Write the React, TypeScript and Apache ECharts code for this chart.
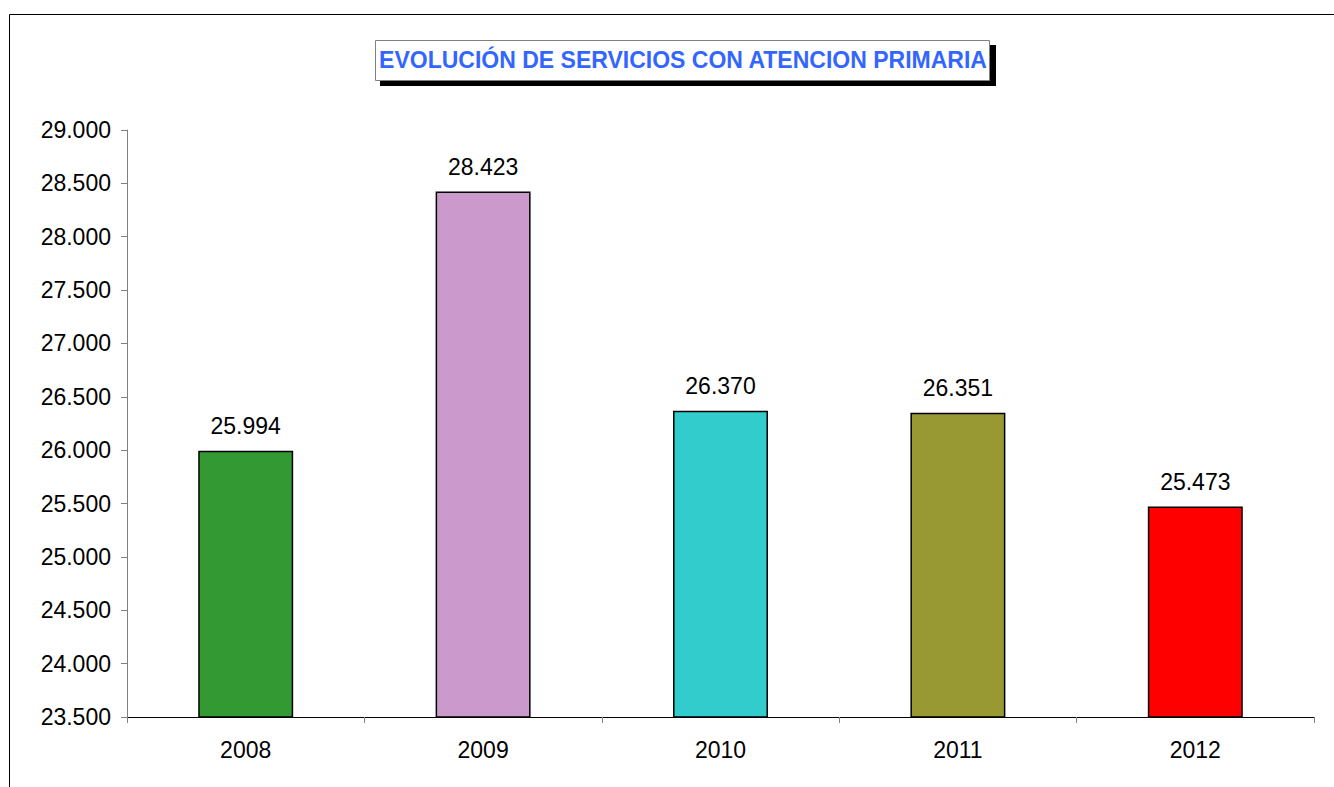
import React, { useEffect, useRef } from "react";
import * as echarts from "echarts";

const categories = ["2008", "2009", "2010", "2011", "2012"];
const values = [25994, 28423, 26370, 26351, 25473];
const barColors = ["#339933", "#CC99CC", "#33CCCC", "#999933", "#FF0000"];
const titleText = "EVOLUCIÓN DE SERVICIOS CON ATENCION PRIMARIA";

const fmt = (v: number) => {
  const s = Math.round(v).toString();
  return s.replace(/\B(?=(\d{3})+(?!\d))/g, ".");
};

export default function App() {
  const ref = useRef<HTMLDivElement>(null);
  useEffect(() => {
    if (!ref.current) return;
    const chart = echarts.init(ref.current, undefined, { renderer: "svg" });
    const font = "Arial, 'Liberation Sans', sans-serif";
    chart.setOption({
      animation: false,
      backgroundColor: "#ffffff",
      textStyle: { fontFamily: font },
      grid: { left: 127, top: 130, right: 20, bottom: 70, containLabel: false },
      xAxis: {
        type: "category",
        data: categories,
        boundaryGap: true,
        axisLine: { lineStyle: { color: "#000000", width: 1 } },
        axisTick: { show: true, length: 6, lineStyle: { color: "#808080" } },
        axisLabel: { color: "#000000", fontSize: 23, fontFamily: font, margin: 21 },
      },
      yAxis: {
        type: "value",
        min: 23500,
        max: 29000,
        interval: 500,
        splitLine: { show: false },
        axisLine: { show: true, lineStyle: { color: "#808080", width: 1 } },
        axisTick: { show: true, length: 6, inside: false, lineStyle: { color: "#808080" } },
        axisLabel: {
          color: "#000000",
          fontSize: 23,
          fontFamily: font,
          margin: 16,
          formatter: (v: number) => fmt(v),
        },
      },
      series: [
        {
          type: "bar",
          barWidth: "40%",
          data: values.map((v, i) => ({
            value: v,
            itemStyle: { color: barColors[i], borderColor: "#000000", borderWidth: 1.5 },
          })),
          label: {
            show: true,
            position: "top",
            distance: 13,
            color: "#000000",
            fontSize: 23,
            fontFamily: font,
            formatter: (p: any) => fmt(p.value),
          },
        },
      ],
      graphic: [
        {
          type: "rect",
          shape: { x: 9.5, y: 14.5, width: 1500, height: 1000 },
          style: { fill: "none", stroke: "#000000", lineWidth: 1 },
          silent: true,
          z: 0,
        },
        {
          type: "rect",
          shape: { x: 380, y: 45, width: 616, height: 41 },
          style: { fill: "#000000" },
          silent: true,
          z: 10,
        },
        {
          type: "rect",
          shape: { x: 375.5, y: 40.5, width: 614, height: 40 },
          style: { fill: "#ffffff", stroke: "#808080", lineWidth: 1 },
          silent: true,
          z: 11,
        },
        {
          type: "text",
          x: 683,
          y: 60,
          style: {
            text: titleText,
            fill: "#3366FF",
            font: "bold 23px Arial, 'Liberation Sans', sans-serif",
            align: "center",
            verticalAlign: "middle",
          },
          silent: true,
          z: 12,
        },
      ],
    });
    return () => chart.dispose();
  }, []);
  return (
    <div
      ref={ref}
      style={{ position: "absolute", left: 0, top: 0, width: 1334, height: 787 }}
    />
  );
}
